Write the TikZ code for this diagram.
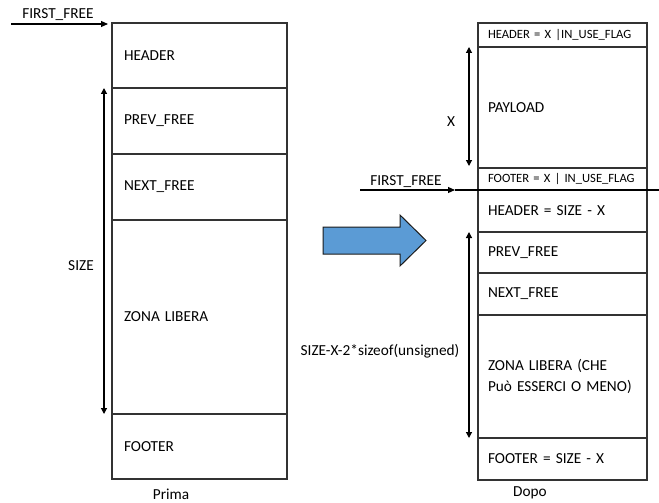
\documentclass[tikz,border=0pt]{standalone}
\usepackage{fontspec}
\setmainfont{Carlito}
\usetikzlibrary{arrows.meta,positioning,calc}
\definecolor{boxgray}{HTML}{333333}
\definecolor{arrowblue}{HTML}{5B9BD5}
\definecolor{arrowedge}{HTML}{1A1A1A}
\begin{document}
\begin{tikzpicture}[x=1pt,y=-1pt,
  font=\fontsize{15.3}{18}\selectfont,
  lcell/.style={draw=boxgray, line width=1.3pt, outer sep=0pt, inner xsep=12pt, inner ysep=0pt,
                text width=151pt, minimum width=175pt, align=left},
  rcell/.style={draw=boxgray, line width=1.1pt, outer sep=0pt, inner xsep=10pt, inner ysep=0pt,
                text width=149pt, minimum width=169pt, align=left},
  small/.style={font=\fontsize{12.6}{14}\selectfont},
  dim/.style={{Triangle[width=6pt,length=6pt]}-{Triangle[width=6pt,length=6pt]}, line width=1.2pt, black},
  ptr/.style={-{Triangle[width=6pt,length=7pt]}, line width=1.1pt, black},
  lbl/.style={inner sep=0pt},
]
\useasboundingbox (0,0) rectangle (659,503);

% ---- block before allocation ----
\node[lcell, minimum height=65pt, anchor=north west] (lhead) at (112,23) {HEADER};
\node[lcell, minimum height=66pt, below=0pt of lhead] (lprev) {PREV\_FREE};
\node[lcell, minimum height=66pt, below=0pt of lprev] (lnext) {NEXT\_FREE};
\node[lcell, minimum height=194pt, below=0pt of lnext] (lzone) {ZONA LIBERA};
\node[lcell, minimum height=65pt, below=0pt of lzone] (lfoot) {FOOTER};
\node[lbl] (prima) at (171,494) {Prima};

% free-list pointer into the block
\coordinate (lff) at (11,24);
\node[lbl] (lfftxt) at (58,15) {FIRST\_FREE};
\draw[ptr] (lff) -- ($(lhead.north west)+(-4,1)$);

% size span
\coordinate (lsztop) at ($(lprev.north west)+(-8,0)$);
\coordinate (lszbot) at ($(lzone.south west)+(-8,0)$);
\draw[dim] (lsztop) -- (lszbot);
\node[lbl] (lsize) at (81,266) {SIZE};

% ---- transition arrow ----
\draw[fill=arrowblue, draw=arrowedge, line width=1pt, line join=miter]
  (323,227) -- (400,227) -- (400,215) -- (426,240.5) -- (400,266) -- (400,254) -- (323,254) -- cycle;

% ---- blocks after allocation ----
\node[rcell, minimum height=24pt, anchor=north west, small] (rhx) at (478,23) {HEADER = X |IN\_USE\_FLAG};
\node[rcell, minimum height=121pt, below=0pt of rhx] (rpay) {PAYLOAD};
\node[rcell, minimum height=22pt, below=0pt of rpay, small] (rfx) {FOOTER = X | IN\_USE\_FLAG};
\node[rcell, minimum height=42pt, below=0pt of rfx] (rhead) {HEADER = SIZE - X};
\node[rcell, minimum height=41pt, below=0pt of rhead] (rprev) {PREV\_FREE};
\node[rcell, minimum height=42pt, below=0pt of rprev] (rnext) {NEXT\_FREE};
\node[rcell, minimum height=123pt, below=0pt of rnext, font=\fontsize{15.3}{21}\selectfont] (rzone) {ZONA LIBERA (CHE\\Può ESSERCI O MENO)};
\node[rcell, minimum height=42pt, below=0pt of rzone] (rfoot) {FOOTER = SIZE - X};
\node[lbl] (dopo) at (530,493) {Dopo};

% payload span
\coordinate (rxtop) at ($(rpay.north west)+(-9,0)$);
\coordinate (rxbot) at ($(rpay.south west)+(-9,-2)$);
\draw[dim] (rxtop) -- (rxbot);
\node[lbl] (rx) at (451,122) {X};

% remaining free span
\coordinate (rstop) at ($(rprev.north west)+(-9,0)$);
\coordinate (rsbot) at ($(rzone.south west)+(-9,0)$);
\draw[dim] (rstop) -- (rsbot);
\node[lbl] (rsize) at (380,351) {SIZE-X-2*sizeof(unsigned)};

% free-list pointer to the split point
\coordinate (rff) at (360,190);
\coordinate (rcutl) at (455,190);
\coordinate (rcutr) at (659,190);
\node[lbl] (rfftxt) at (406,182) {FIRST\_FREE};
\draw[ptr] (rff) -- (rcutl);
\draw[line width=2.6pt, black] (rcutl) -- (rcutr);
\end{tikzpicture}
\end{document}
